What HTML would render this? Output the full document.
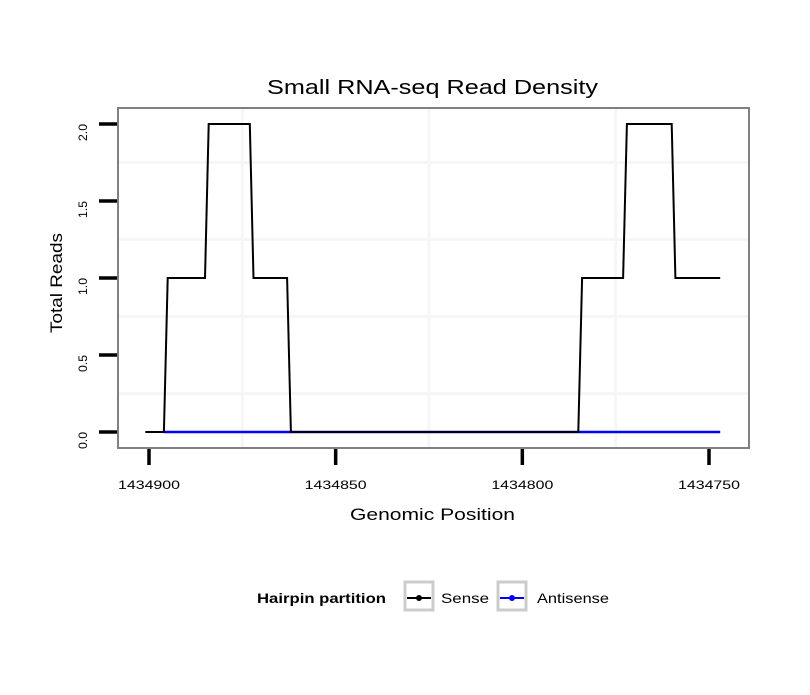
<!DOCTYPE html>
<html><head><meta charset="utf-8">
<style>
html,body{margin:0;padding:0;background:#fff;}
svg text{font-family:"Liberation Sans",sans-serif;}
</style></head>
<body>
<svg id="chart" width="810" height="690" xmlns="http://www.w3.org/2000/svg">
<rect x="0" y="0" width="810" height="690" fill="#fff"/>
<text x="267" y="94" font-size="20" textLength="331" lengthAdjust="spacingAndGlyphs" fill="#000">Small RNA-seq Read Density</text>
<g id="grid"></g>
<g id="series"></g>
<rect x="118" y="108" width="631" height="340" fill="none" stroke="#808080" stroke-width="2"/>
<g id="axes"></g>
<text x="350" y="520" font-size="17" textLength="165" lengthAdjust="spacingAndGlyphs" fill="#000">Genomic Position</text>
<text transform="translate(62,333) rotate(-90)" font-size="17" textLength="100" lengthAdjust="spacingAndGlyphs" fill="#000">Total Reads</text>
<g>
  <text x="257" y="603" font-size="14" font-weight="bold" textLength="129" lengthAdjust="spacingAndGlyphs" fill="#000">Hairpin partition</text>
  <g>
    <rect x="405" y="582" width="28" height="28" fill="#fff" stroke="#ccc" stroke-width="3"/>
    <line x1="407" y1="598" x2="431" y2="598" stroke="#000" stroke-width="2"/>
    <circle cx="419" cy="598" r="3" fill="#000"/>
    <text x="441" y="603" font-size="14" textLength="48" lengthAdjust="spacingAndGlyphs" fill="#000">Sense</text>
  </g>
  <g>
    <rect x="498" y="582" width="28" height="28" fill="#fff" stroke="#ccc" stroke-width="3"/>
    <line x1="500" y1="598" x2="524" y2="598" stroke="#00f" stroke-width="2"/>
    <circle cx="512" cy="598" r="3" fill="#00f"/>
    <text x="537" y="603" font-size="14" textLength="72" lengthAdjust="spacingAndGlyphs" fill="#000">Antisense</text>
  </g>
</g>
</svg>
<script>
const senseX = [1434901,1434896,1434895,1434885,1434884,1434873,1434872,1434863,1434862,1434785,1434784,1434773,1434772,1434760,1434759,1434747];
const senseY = [0,0,1,1,2,2,1,1,0,0,1,1,2,2,1,1];
const antisenseX = [1434896,1434862,1434784,1434747];
const antisenseY = [0,0,0,0];
const xTicks = [1434900,1434850,1434800,1434750];
const xTickLabels = ["1434900","1434850","1434800","1434750"];
const yTicks = [0,0.5,1,1.5,2];
const yTickLabels = ["0.0","0.5","1.0","1.5","2.0"];

const NS="http://www.w3.org/2000/svg";
function xs(v){return 149+(1434900-v)*(560/150);}
function ys(v){return 432-v*154;}
function mk(tag,attrs,parent){const e=document.createElementNS(NS,tag);for(const k in attrs)e.setAttribute(k,attrs[k]);parent.appendChild(e);return e;}
const grid=document.getElementById('grid'),series=document.getElementById('series'),axes=document.getElementById('axes');
for(let i=0;i<xTicks.length-1;i++){
  const gx=xs((xTicks[i]+xTicks[i+1])/2);
  const l=mk('line',{x1:gx,x2:gx,y1:109,y2:447,stroke:'#f6f6f6','stroke-width':3},grid);
  
  
}
for(let i=0;i<yTicks.length-1;i++){
  const gy=ys((yTicks[i]+yTicks[i+1])/2);
  const l=mk('line',{x1:119,x2:748,y1:gy,y2:gy,stroke:'#f6f6f6','stroke-width':3},grid);
  
  
}
function path(X,Y){return X.map((v,i)=>(i?'L':'M')+xs(v).toFixed(1)+','+ys(Y[i]).toFixed(1)).join(' ');}
const a=mk('path',{d:path(antisenseX,antisenseY),fill:'none',stroke:'#00f','stroke-width':2.5},series);


const s=mk('path',{d:path(senseX,senseY),fill:'none',stroke:'#000','stroke-width':2,'stroke-linejoin':'miter'},series);


xTicks.forEach((v,i)=>{
  const t=mk('line',{x1:xs(v),x2:xs(v),y1:449,y2:465,stroke:'#000','stroke-width':3.5},axes);
  
  
  const tx=mk('text',{x:xs(v)-31,y:489,'font-size':12,textLength:62,lengthAdjust:'spacingAndGlyphs',fill:'#000'},axes);
  tx.textContent=xTickLabels[i];
  
  
});
yTicks.forEach((v,i)=>{
  const t=mk('line',{x1:99,x2:117,y1:ys(v),y2:ys(v),stroke:'#000','stroke-width':3.5},axes);
  
  
  const tx=mk('text',{transform:'translate(87,'+(ys(v)+17)+') rotate(-90)','font-size':12,textLength:17,lengthAdjust:'spacingAndGlyphs',fill:'#000'},axes);
  tx.textContent=yTickLabels[i];
  
  
});
</script>
</body></html>
